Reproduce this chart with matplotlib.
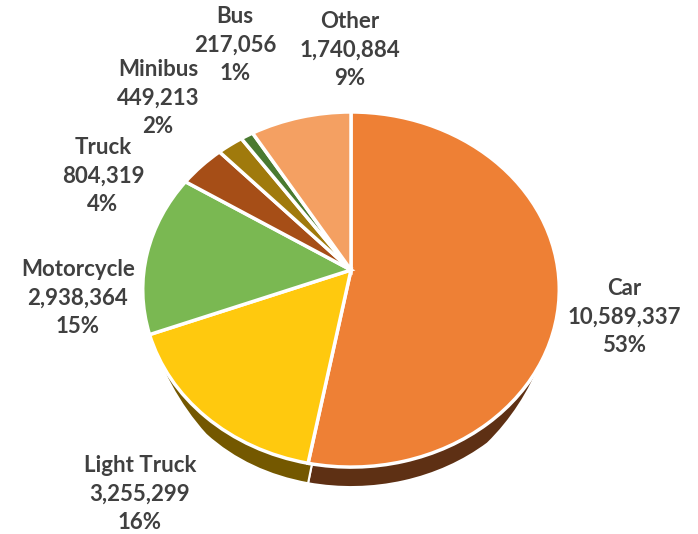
import numpy as np
import matplotlib.pyplot as plt
from matplotlib.transforms import Transform

# datos del gráfico
categorias = ["Car", "Light Truck", "Motorcycle", "Truck", "Minibus", "Bus", "Other"]
valores = [10589337, 3255299, 2938364, 804319, 449213, 217056, 1740884]
porcentajes = ["53%", "16%", "15%", "4%", "2%", "1%", "9%"]

colores = ["#EE8035", "#FFC90E", "#7AB852", "#A64E17", "#A07A0C", "#4A7A30", "#F4A062"]
colores_lado = ["#5E3014", "#745800", "#3E5E28", "#5A2A08", "#5A4406", "#2A4418", "#8A5A34"]

# posiciones de las etiquetas (pixeles)
pos_etiquetas = [(624, 317), (140, 494), (78, 298), (103, 176), (158, 98), (235, 45), (350, 50)]


class Perspectiva(Transform):
    """Proyecta el círculo unidad del pastel a un plano inclinado (pixeles)."""
    input_dims = 2
    output_dims = 2

    def __init__(self, cx, cy, b, a, e, prof=0.0):
        super().__init__()
        self.cx, self.cy, self.b, self.a, self.e, self.prof = cx, cy, b, a, e, prof

    def transform_non_affine(self, values):
        v = np.asarray(values, dtype=float)
        X, Y = v[:, 0], v[:, 1]
        d = 1 + self.e * Y
        x = self.cx + self.b * X / d
        y = self.cy - self.a * Y / d
        if self.prof:
            y = y + self.prof * np.clip((-Y - 0.5) / 0.3, 0, 1)
        return np.column_stack([x, y])

    def inverted(self):
        return None


fig = plt.figure(figsize=(6.98, 5.34), dpi=100)
ax = fig.add_axes([0, 0, 1, 1])

# lado (profundidad) del pastel 3D
lados, _ = ax.pie(valores, colors=colores_lado, startangle=90, counterclock=False,
                  wedgeprops=dict(edgecolor="white", linewidth=1.5))
tr_lado = Perspectiva(351, 270, 207, 175.4, 0.11, prof=20) + ax.transData
for w in lados:
    w.set_transform(tr_lado)

# cara superior
cuñas, _ = ax.pie(valores, colors=colores, startangle=90, counterclock=False,
                  wedgeprops=dict(edgecolor="white", linewidth=2.5))
tr = Perspectiva(351, 270, 207, 175.4, 0.11) + ax.transData
for w in cuñas:
    w.set_transform(tr)

# etiquetas
for cat, val, pct, (x, y) in zip(categorias, valores, porcentajes, pos_etiquetas):
    ax.text(x, y, f"{cat}\n{val:,}\n{pct}", ha="center", va="center",
            fontsize=16, fontweight="bold", color="#404040",
            family=["Lato", "DejaVu Sans"], linespacing=1.47)

ax.set_aspect("auto")
ax.set_xlim(0, 698)
ax.set_ylim(534, 0)
ax.axis("off")

plt.savefig("out.png", dpi=100)
